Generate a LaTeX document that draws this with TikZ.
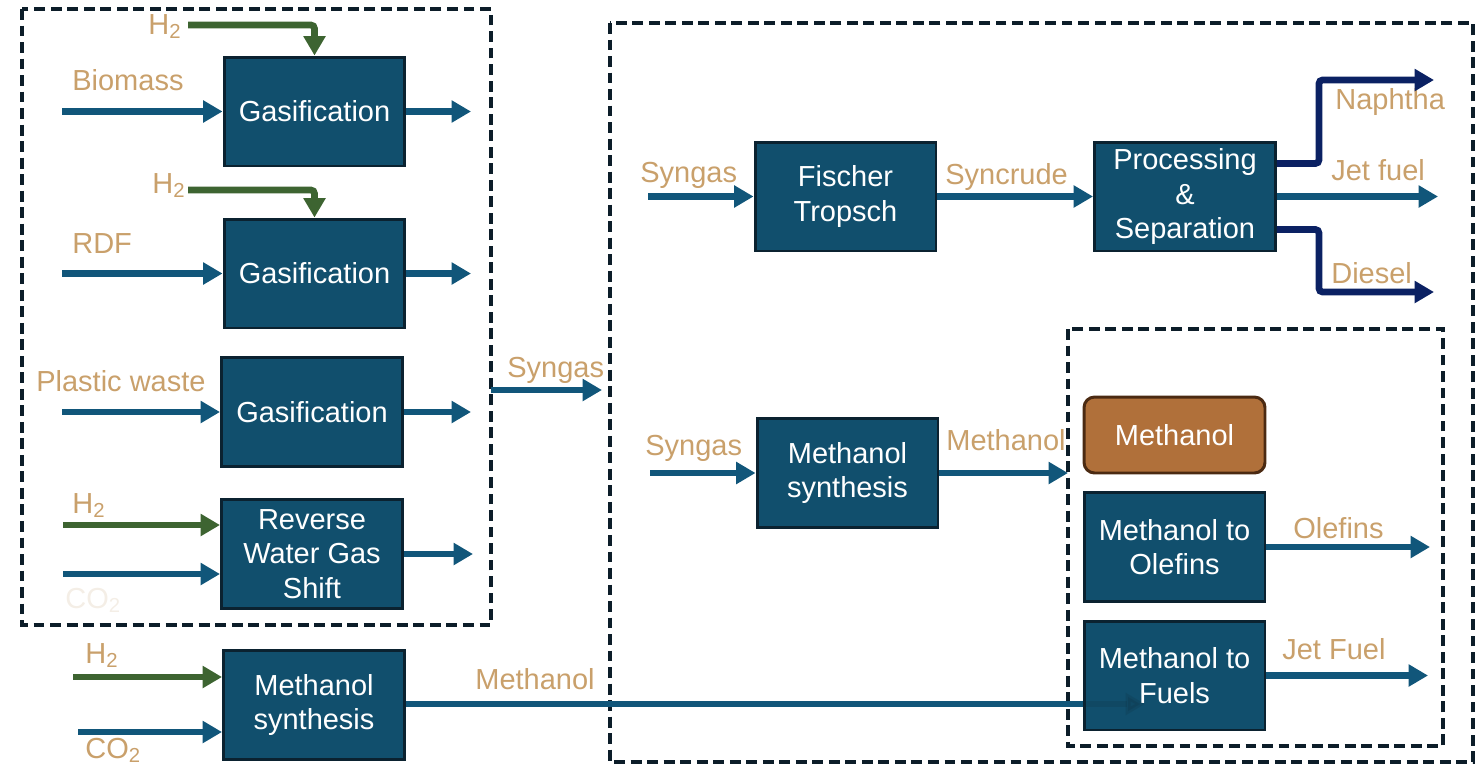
\documentclass[tikz,border=0pt]{standalone}
\usepackage{fontspec}
\setmainfont{Liberation Sans}
\usetikzlibrary{arrows.meta,positioning}
\definecolor{boxfill}{HTML}{114F6D}
\definecolor{boxline}{HTML}{0B2230}
\definecolor{tan}{HTML}{C9A06B}
\definecolor{flowblue}{HTML}{11567A}
\definecolor{hgreen}{HTML}{3D6431}
\definecolor{navyout}{HTML}{0B2163}
\definecolor{meohfill}{HTML}{B0703A}
\definecolor{meohline}{HTML}{4B2A12}
\definecolor{faint}{HTML}{F4EEE6}
\definecolor{framecol}{HTML}{0C1D29}

\begin{document}
\begin{tikzpicture}[x=0.02cm,y=-0.02cm,font=\fontsize{16.5}{19.5}\selectfont,
  unit/.style={draw=boxline,line width=1.7pt,fill=boxfill,text=white,align=center,minimum width=3.62cm,minimum height=2.18cm,inner sep=1pt},
  store/.style={draw=meohline,line width=1.7pt,fill=meohfill,text=white,rounded corners=6pt,minimum width=3.62cm,minimum height=1.52cm},
  lbl/.style={text=tan,anchor=base west,inner sep=0pt},
  flow/.style={draw=flowblue,line width=3.8pt,-{Triangle[length=11pt,width=12pt]}},
  hflow/.style={flow,draw=hgreen,rounded corners=2pt},
  pflow/.style={flow,draw=navyout,rounded corners=2pt},
  frame/.style={draw=framecol,line width=2.6pt,dash pattern=on 6.2pt off 3.2pt}]
  \useasboundingbox (0,0) rectangle (1476,768);

  % group frames
  \draw[frame] (22,9) rectangle (491,625);
  \draw[frame] (610,23) rectangle (1473,762);
  \draw[frame] (1068,329) rectangle (1443,746);

  % free ends
  \coordinate (biomassin) at (62,111.5);
  \coordinate (gas1out) at (471,111.5);
  \coordinate (h2a) at (188,25);
  \coordinate (rdfin) at (62,273.5);
  \coordinate (gas2out) at (471,273.5);
  \coordinate (h2b) at (188,190);
  \coordinate (plasticin) at (62,412);
  \coordinate (gas3out) at (471,412);
  \coordinate (rwgsh2) at (63,525);
  \coordinate (rwgsco2) at (63,574);
  \coordinate (rwgsout) at (473,554);
  \coordinate (msh2) at (73,677);
  \coordinate (msco2) at (78,732);
  \coordinate (mtfin) at (1145,704);
  \coordinate (syngasout) at (491,390);
  \coordinate (syngasin) at (602,390);
  \coordinate (ftin) at (648,196.5);
  \coordinate (naphout) at (1434,80);
  \coordinate (jetout) at (1438,196.5);
  \coordinate (dieselout) at (1434,292);
  \coordinate (ms2in) at (650,473);
  \coordinate (ms2out) at (1068,473);
  \coordinate (olefout) at (1430,547);
  \coordinate (jetfout) at (1428,675.5);

  % units
  \node[unit] (gas1) at (314.5,111.5) {Gasification};
  \node[unit] (gas2) at (314.5,273.5) {Gasification};
  \node[unit] (gas3) at (312,412) {Gasification};
  \node[unit] (rwgs) at (312,554) {Reverse\\Water Gas\\Shift};
  \node[unit] (ms1) at (314,705) {Methanol\\synthesis};
  \node[unit] (ft) at (845.5,196.5) {Fischer\\Tropsch};
  \node[unit] (ps) at (1185,196.5) {Processing\\\&\\Separation};
  \node[unit] (ms2) at (847.5,473) {Methanol\\synthesis};
  \node[store] (meoh) at (1174.5,435) {Methanol};
  \node[unit] (mto) at (1174.5,547) {Methanol to\\Olefins};
  \draw[flow,-] (ms1.east |- mtfin) -- (mtfin);
  \node[unit] (mtf) at (1174.5,675.5) {Methanol to\\Fuels};
  \draw[flow,draw=boxline,opacity=0.15] (mtf.west |- mtfin) -- (mtfin);

  % labels
  \node[lbl] (lh2a) at (148,34) {H\textsubscript{2}};
  \node[lbl] (lbiomass) at (72,90) {Biomass};
  \node[lbl] (lh2b) at (152,193) {H\textsubscript{2}};
  \node[lbl] (lrdf) at (72,253) {RDF};
  \node[lbl] (lplastic) at (36,391) {Plastic waste};
  \node[lbl] (lh2c) at (72,513) {H\textsubscript{2}};
  \node[lbl,text=faint] (lco2a) at (65,608) {CO\textsubscript{2}};
  \node[lbl] (lh2d) at (85,663) {H\textsubscript{2}};
  \node[lbl] (lco2b) at (85,758) {CO\textsubscript{2}};
  \node[lbl] (lmeoha) at (475,689) {Methanol};
  \node[lbl] (lsyngasa) at (507,377) {Syngas};
  \node[lbl] (lsyngasb) at (640,182) {Syngas};
  \node[lbl] (lsyncrude) at (945,184) {Syncrude};
  \node[lbl] (lnaphtha) at (1335,109) {Naphtha};
  \node[lbl] (ljet) at (1331,180) {Jet fuel};
  \node[lbl] (ldiesel) at (1331,283) {Diesel};
  \node[lbl] (lsyngasc) at (645,455) {Syngas};
  \node[lbl] (lmeohb) at (946,450) {Methanol};
  \node[lbl] (lolefins) at (1293,538) {Olefins};
  \node[lbl] (ljetf) at (1282,659) {Jet Fuel};

  % feeds
  \draw[hflow] (h2a) -| (gas1.north);
  \draw[flow] (biomassin) -- (gas1.west);
  \draw[flow] (gas1.east) -- (gas1out);
  \draw[hflow] (h2b) -| (gas2.north);
  \draw[flow] (rdfin) -- (gas2.west);
  \draw[flow] (gas2.east) -- (gas2out);
  \draw[flow] (plasticin) -- (gas3.west);
  \draw[flow] (gas3.east) -- (gas3out);
  \draw[hflow] (rwgsh2) -- (rwgsh2 -| rwgs.west);
  \draw[flow] (rwgsco2) -- (rwgsco2 -| rwgs.west);
  \draw[flow] (rwgs.east) -- (rwgsout);
  \draw[hflow] (msh2) -- (msh2 -| ms1.west);
  \draw[flow] (msco2) -- (msco2 -| ms1.west);
  \draw[flow] (syngasout) -- (syngasin);

  % Fischer Tropsch route
  \draw[flow] (ftin) -- (ft.west);
  \draw[flow] (ft.east) -- (ps.west);
  \draw[pflow] ([yshift=0.66cm]ps.east) -- ++(42,0) |- (naphout);
  \draw[flow] (ps.east) -- (jetout);
  \draw[pflow] ([yshift=-0.66cm]ps.east) -- ++(42,0) |- (dieselout);

  % methanol route
  \draw[flow] (ms2in) -- (ms2.west);
  \draw[flow] (ms2.east) -- (ms2out);
  \draw[flow] (mto.east) -- (olefout);
  \draw[flow] (mtf.east) -- (jetfout);
\end{tikzpicture}
\end{document}
